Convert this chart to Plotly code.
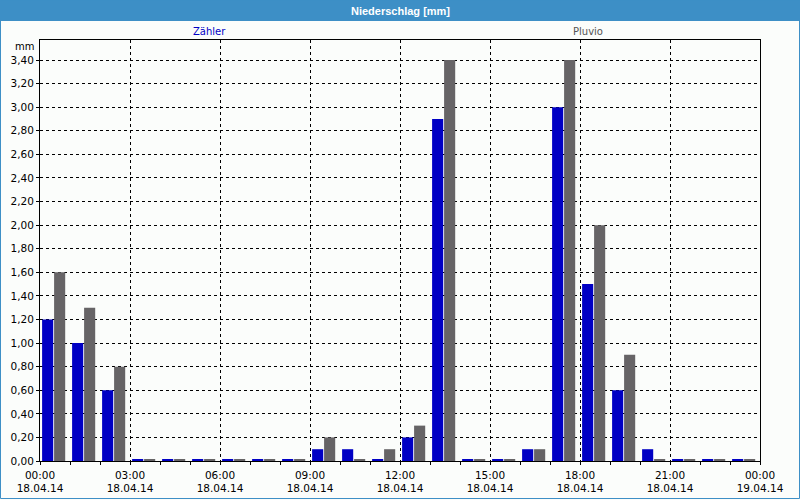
import plotly.graph_objects as go

hours = list(range(24))
zaehler = [1.2, 1.0, 0.6, 0.01, 0.01, 0.01, 0.01, 0.01, 0.01, 0.1, 0.1, 0.01,
           0.2, 2.9, 0.01, 0.01, 0.1, 3.0, 1.5, 0.6, 0.1, 0.01, 0.01, 0.01]
pluvio = [1.6, 1.3, 0.8, 0.01, 0.01, 0.01, 0.01, 0.01, 0.01, 0.2, 0.01, 0.1,
          0.3, 3.4, 0.01, 0.01, 0.1, 3.4, 2.0, 0.9, 0.01, 0.01, 0.01, 0.01]
tick_vals = [0, 3, 6, 9, 12, 15, 18, 21, 24]
tick_text = ["00:00<br>18.04.14", "03:00<br>18.04.14", "06:00<br>18.04.14",
             "09:00<br>18.04.14", "12:00<br>18.04.14", "15:00<br>18.04.14",
             "18:00<br>18.04.14", "21:00<br>18.04.14", "00:00<br>19.04.14"]
y_vals = [round(0.2 * i, 2) for i in range(18)]
y_text = [f"{v:.2f}".replace(".", ",") for v in y_vals]

W, H = 800, 500
L, R, T, B = 40, 40, 40, 39
pw, ph = W - L - R, H - T - B


def px(x):
    return (x - L) / pw


def py(y):
    return (H - B - y) / ph


BLUE = "#0000c4"
GRAY = "#666466"
FONT = "DejaVu Sans"

fig = go.Figure()
fig.add_trace(go.Bar(x=hours, y=zaehler, name="Zähler", marker_color=BLUE,
                     marker_line_width=0, offset=0.07, width=0.37))
fig.add_trace(go.Bar(x=hours, y=pluvio, name="Pluvio", marker_color=GRAY,
                     marker_line_width=0, offset=0.47, width=0.37))

fig.update_layout(
    width=W, height=H,
    margin=dict(l=L, r=R, t=T, b=B, pad=0, autoexpand=False),
    paper_bgcolor="#fbfdfb", plot_bgcolor="#fbfdfb",
    showlegend=False,
    barmode="overlay",
    font=dict(family=FONT, size=10, color="#000000"),
    xaxis=dict(range=[0, 24], tickvals=tick_vals, ticktext=tick_text, automargin=False,
               showgrid=True, gridcolor="#000000", gridwidth=1, griddash="3px,3px",
               showline=True, linecolor="#000000", linewidth=1, mirror=True,
               ticks="outside", ticklen=3, tickcolor="#000000", ticklabelstandoff=1,
               minor=dict(dtick=1, tick0=0, ticks="outside", ticklen=3, tickcolor="#000000", showgrid=False),
               zeroline=False, tickfont=dict(family=FONT, size=10.5, color="#000000")),
    yaxis=dict(range=[0, 3.57], tickvals=y_vals, ticktext=y_text, automargin=False,
               showgrid=True, gridcolor="#000000", gridwidth=1, griddash="3px,3px",
               showline=True, linecolor="#000000", linewidth=1, mirror=True,
               ticks="outside", ticklen=3, tickcolor="#000000",
               zeroline=False, tickfont=dict(family=FONT, size=10.5, color="#000000")),
)

# title bar
fig.add_shape(type="rect", xref="paper", yref="paper",
              x0=px(0), x1=px(W), y0=py(21), y1=py(0),
              fillcolor="#3d8fc6", line_width=0, layer="below")
# outer border
fig.add_shape(type="rect", xref="paper", yref="paper",
              x0=px(0.5), x1=px(799.5), y0=py(498.5), y1=py(0),
              fillcolor="rgba(0,0,0,0)", line=dict(color="#3d8fc6", width=1))

fig.add_annotation(xref="paper", yref="paper", x=0.5, y=py(10.5), text="<b>Niederschlag [mm]</b>",
                   showarrow=False, font=dict(family="Liberation Sans", size=11, color="#ffffff", weight="bold"),
                   xanchor="center", yanchor="middle")
fig.add_annotation(xref="paper", yref="paper", x=px(209), y=py(32), text="Zähler",
                   showarrow=False, font=dict(family=FONT, size=10, color="#0000c4"),
                   xanchor="center", yanchor="middle")
fig.add_annotation(xref="paper", yref="paper", x=px(588), y=py(32), text="Pluvio",
                   showarrow=False, font=dict(family=FONT, size=10, color="#555555"),
                   xanchor="center", yanchor="middle")
fig.add_annotation(xref="paper", yref="paper", x=px(36), y=py(46), text="mm",
                   showarrow=False, font=dict(family=FONT, size=10, color="#000000"),
                   xanchor="right", yanchor="middle")

fig.write_html("out.html")
